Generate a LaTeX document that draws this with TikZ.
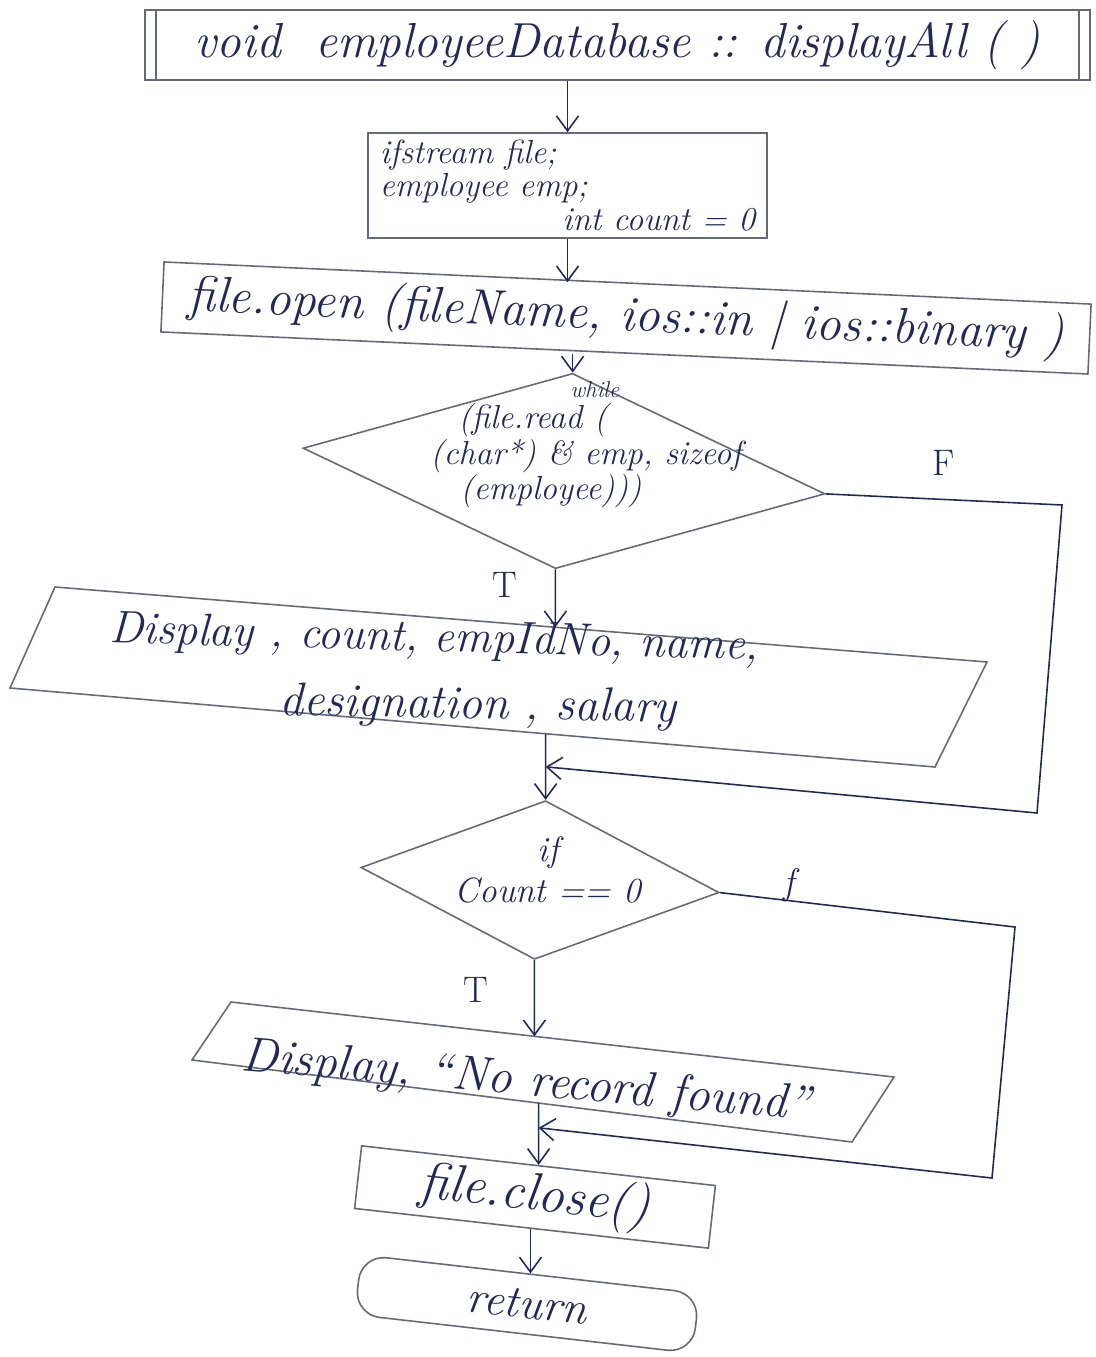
\documentclass[tikz,border=0pt]{standalone}
\usetikzlibrary{arrows.meta,shapes.geometric,intersections,calc}
\definecolor{pencil}{RGB}{100,106,122}
\definecolor{ink}{RGB}{32,42,88}
\tikzset{
  pen/.style={draw=pencil, line width=0.9pt},
  arr/.style={draw=ink, line width=0.9pt, -{Straight Barb[length=3mm,width=4.4mm]}},
  txt/.style={text=ink, inner sep=0pt},
  lbl/.style={text=ink, inner sep=0pt, font=\fontsize{21}{23}\selectfont},
}
\begin{document}
\begin{tikzpicture}[x=0.2mm,y=-0.2mm]
\useasboundingbox (0,0) rectangle (1095,1357);
\fill[white] (0,0) rectangle (1095,1357);

% --- header (predefined process) ---
\node[pen, rectangle, minimum width=189mm, minimum height=14mm, inner sep=0pt,
      text=ink, font=\fontsize{28}{30}\selectfont\itshape] (head) at (617.5,45)
      {\raisebox{-0.5mm}{void\ \ employeeDatabase :: displayAll ( )}};
\draw[pen] ([xshift=2.4mm]head.north west) -- ([xshift=2.4mm]head.south west);
\draw[pen] ([xshift=-2.4mm]head.north east) -- ([xshift=-2.4mm]head.south east);

% --- declarations ---
\node[pen, rectangle, minimum width=79.8mm, minimum height=21mm, inner sep=0pt,
      align=left, text=ink,
      font=\fontsize{19}{19}\selectfont\itshape] (vars) at (567.5,185.5)
      {ifstream file;\\ employee emp;\\ \hspace*{36.5mm}int count = 0};

% --- open ---
\node[pen, rectangle, rotate=-2.6, minimum width=185.6mm, minimum height=14mm, inner sep=0pt,
      text=ink, font=\fontsize{28.5}{30}\selectfont\itshape] (open) at (626,318)
      {file.open (fileName, ios::in | ios::binary )};

% --- while decision ---
\node[pen, diamond, rotate=-5, minimum width=104.8mm, minimum height=39.2mm, inner sep=0pt] (loop) at (564,471) {};
\node[txt, anchor=north west, align=left, font=\fontsize{19}{18}\selectfont\itshape] (looptxt) at (430,381)
      {\hspace*{28mm}{\fontsize{13}{13}\selectfont while}\\
       \hspace*{5.6mm}(file.read (\\
       (char*) \& emp, sizeof\\
       \hspace*{6mm}(employee)))};

% --- display record (parallelogram) ---
\coordinate (d1tl) at (55,587);
\coordinate (d1tr) at (987,662);
\coordinate (d1br) at (935,767);
\coordinate (d1bl) at (10,688);
\draw[pen] (d1tl) -- (d1tr) -- (d1br) -- (d1bl) -- cycle;
\node[txt, rotate=-1.5, font=\fontsize{26}{28}\selectfont\itshape] (d1txta) at (434,640) {Display , count, empIdNo, name,};
\node[txt, rotate=-1, font=\fontsize{27}{28}\selectfont\itshape] (d1txtb) at (478,707) {designation , salary};

% --- if decision ---
\node[pen, diamond, rotate=-4, minimum width=71.8mm, minimum height=31.8mm, inner sep=0pt] (chk) at (540,880) {};
\node[txt, align=center, font=\fontsize{20}{23}\selectfont\itshape] (chktxt) at (548,870) {if\\Count == 0};

% --- display no record (parallelogram) ---
\coordinate (d2tl) at (231,1002);
\coordinate (d2tr) at (894,1077);
\coordinate (d2br) at (852,1142);
\coordinate (d2bl) at (192,1060);
\draw[pen] (d2tl) -- (d2tr) -- (d2br) -- (d2bl) -- cycle;
\node[txt, rotate=-5, font=\fontsize{28}{30}\selectfont\itshape] (d2txt) at (526,1083) {Display,\ ``No record found''};

% --- close ---
\node[pen, rectangle, rotate=-6.4, minimum width=71.2mm, minimum height=12.6mm, inner sep=0pt,
      text=ink, font=\fontsize{30}{32}\selectfont\itshape] (close) at (535,1197) {file.close()};

% --- return ---
\node[pen, rectangle, rounded corners=5mm, rotate=-6.5, minimum width=68mm, minimum height=12mm, inner sep=0pt,
      text=ink, font=\fontsize{26}{28}\selectfont\itshape] (ret) at (527,1304) {return};

% --- labels ---
\node[lbl] (lF1) at (944,463) {F};
\node[lbl] (lT1) at (505,585) {T};
\node[lbl, font=\fontsize{21}{23}\selectfont\itshape] (lF2) at (789,885) {f};
\node[lbl] (lT2) at (476,990) {T};

% --- bend points ---
\coordinate (f1a) at (1062,505);
\coordinate (f1b) at (1037,813);
\coordinate (f2a) at (1015,927);
\coordinate (f2b) at (992,1178);

% --- connectors ---
\draw[arr] (vars.north |- head.south) -- (vars.north);
\draw[arr] (vars.south) -- (vars.south |- open.north);
\draw[arr] (loop.north |- open.south) -- (loop.north);

\path[name path=d1top] (d1tl) -- (d1tr);
\path[name path=d1bot] (d1bl) -- (d1br);
\path[name path=v1] (loop.south) -- ++(0,150);
\path[name intersections={of=d1top and v1, by=d1in}];
\draw[arr] (loop.south) -- (d1in);

\path[name path=v2] (chk.north) -- ++(0,-150);
\path[name intersections={of=d1bot and v2, by=d1out}];
\draw[arr] (d1out) -- (chk.north);
\coordinate (m1) at ($(d1out)!0.5!(chk.north)$);
\draw[arr] (loop.east) -- (f1a) -- (f1b) -- (m1);

\path[name path=d2top] (d2tl) -- (d2tr);
\path[name path=d2bot] (d2bl) -- (d2br);
\path[name path=v3] (chk.south) -- ++(0,150);
\path[name intersections={of=d2top and v3, by=d2in}];
\draw[arr] (chk.south) -- (d2in);

\path[name path=v4] (close.north) -- ++(0,-150);
\path[name intersections={of=d2bot and v4, by=d2out}];
\draw[arr] (d2out) -- (close.north);
\coordinate (m2) at ($(d2out)!0.4!(close.north)$);
\draw[arr] (chk.east) -- (f2a) -- (f2b) -- (m2);

\draw[arr] (ret.north |- close.south) -- (ret.north);
\end{tikzpicture}
\end{document}
